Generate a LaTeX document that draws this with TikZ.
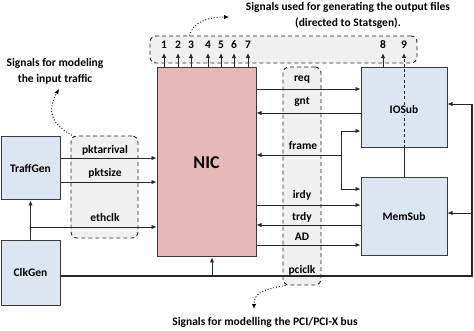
\documentclass[tikz,border=0pt]{standalone}
\usepackage{fontspec}
\setmainfont{Carlito}
\usetikzlibrary{arrows.meta,calc}
\definecolor{boxblue}{HTML}{DCE6F2}
\definecolor{nicpink}{HTML}{E6B8B7}
\definecolor{dgray}{HTML}{F0F0F0}
\definecolor{edge}{HTML}{3A3A3A}
\begin{document}
\begin{tikzpicture}[x=1pt,y=-1pt,
  font=\bfseries\fontsize{11.5}{14}\selectfont,
  blk/.style={draw=edge, line width=1pt, fill=boxblue, inner sep=0pt},
  dbox/.style={draw=black!85, dashed, dash pattern=on 4pt off 3pt, line width=0.9pt, fill=dgray, rounded corners=6pt, inner sep=0pt},
  ar/.style={-{Latex[length=5pt,width=4.5pt]}, line width=0.9pt, draw=black!85},
  ln/.style={line width=0.9pt, draw=black!85},
  dotar/.style={-{Latex[length=5pt,width=4.5pt]}, dotted, line width=0.9pt},
  sig/.style={inner sep=1pt},
  note/.style={align=center, inner sep=0pt}]
\useasboundingbox (0,0) rectangle (474,331);

% dashed groups
\node[dbox, minimum width=267, minimum height=27] (outbox) at (283.5,49.5) {};
\node[dbox, minimum width=67, minimum height=102] (inbox) at (104.5,187) {};
\node[dbox, minimum width=38, minimum height=218] (pcibox) at (302,176) {};

% blocks
\node[blk, minimum width=59, minimum height=63] (traff) at (30.5,168.5) {TraffGen};
\node[blk, minimum width=59, minimum height=64] (clk) at (30.5,273) {ClkGen};
\node[draw=edge, line width=1pt, fill=nicpink, minimum width=99, minimum height=189, font=\bfseries\fontsize{18}{20}\selectfont] (nic) at (206.5,162.5) {NIC};
\node[blk, minimum width=86, minimum height=80] (iosub) at (404,108) {};
\node[inner sep=1pt] (iolab) at (404,110) {IOSub};
\node[blk, minimum width=86, minimum height=78] (memsub) at (404,217) {MemSub};

% y levels
\coordinate (ypa) at (0,158);
\coordinate (yps) at (0,182);
\coordinate (yec) at (0,227);
\coordinate (yreq) at (0,89);
\coordinate (ygnt) at (0,113);
\coordinate (yfr) at (0,155);
\coordinate (yirdy) at (0,205);
\coordinate (ytrdy) at (0,225);
\coordinate (yad) at (0,245);
\coordinate (ybus) at (0,276);
\coordinate (frtop) at (341,131);
\coordinate (frmid) at (341,155);
\coordinate (frbot) at (341,189);
\coordinate (bl) at (472,276);
\coordinate (btop) at (472,104);
\coordinate (bmem) at (472,213);
\coordinate (ecbr) at (30.5,227);
\coordinate (nicclk) at (212,276);

% input traffic signals
\draw[ar] (traff.east |- ypa) -- (nic.west |- ypa);
\draw[ar] (traff.east |- yps) -- (nic.west |- yps);
\draw[ar] (clk.north) -- (traff.south);
\draw[ar] (ecbr) -- (nic.west |- yec);
\node[sig] (lpa) at (105,150) {pktarrival};
\node[sig] (lps) at (105,173) {pktsize};
\node[sig] (lec) at (105,218) {ethclk};

% clock bus
\draw[line width=1.3pt, draw=black!85] (clk.east |- ybus) -- (bl) -- (btop);
\draw[ar] (btop) -- (iosub.east |- btop);
\draw[ar] (bmem) -- (memsub.east |- bmem);
\draw[ar] (nicclk) -- (nic.south -| nicclk);

% PCI signals
\draw[ar] (nic.east |- yreq) -- (iosub.west |- yreq);
\draw[ar] (iosub.west |- ygnt) -- (nic.east |- ygnt);
\draw[ar] (frmid) -- (nic.east |- yfr);
\draw[ln] (frtop) -- (frbot);
\draw[ar] (frtop) -- (iosub.west |- frtop);
\draw[ar] (frbot) -- (memsub.west |- frbot);
\draw[ar] (nic.east |- yirdy) -- (memsub.west |- yirdy);
\draw[ar] (memsub.west |- ytrdy) -- (nic.east |- ytrdy);
\draw[ar] (nic.east |- yad) -- (memsub.west |- yad);
\node[sig] (lreq) at (302,80) {req};
\node[sig] (lgnt) at (302,102) {gnt};
\node[sig] (lfr) at (303,146) {frame};
\node[sig] (lirdy) at (302,195) {irdy};
\node[sig] (ltrdy) at (302,217) {trdy};
\node[sig] (lad) at (302,237) {AD};
\node[sig] (lpci) at (302,270) {pciclk};

% IOSub - MemSub
\draw[ln] (memsub.north) -- (iosub.south);
\draw[ln, dashed, dash pattern=on 3pt off 2.5pt] (iosub.south) -- (iolab.south);
\draw[ln, dashed, dash pattern=on 3pt off 2.5pt] (iolab.north) -- (iosub.north);

% output signals
\foreach \i/\x in {1/164,2/178,3/191,4/208,5/221,6/234,7/248,8/383,9/404}{
  \node[inner sep=0pt] (n\i) at (\x,45) {\i};
}
\foreach \i in {1,...,7}{
  \draw[ar] (nic.north -| n\i) -- ([yshift=-4pt]n\i.south);
}
\draw[ar] (iosub.north -| n8) -- ([yshift=-4pt]n8.south);
\draw[ar, dashed, dash pattern=on 3pt off 2.5pt] (iosub.north -| n9) -- ([yshift=-4pt]n9.south);

% notes
\node[note, font=\bfseries\fontsize{11.5}{16}\selectfont] (topnote) at (348,15) {Signals used for generating the output files\\(directed to Statsgen).};
\node[note, font=\bfseries\fontsize{11.5}{16}\selectfont] (leftnote) at (55,71) {Signals for modeling\\the input traffic};
\node[note] (botnote) at (265,322) {Signals for modelling the PCI/PCI-X bus};

\draw[dotar] ([xshift=40pt]outbox.north west) .. controls (193,22) and (208,17) .. (229,17);
\draw[dotar] ([xshift=4pt,yshift=-1pt]inbox.north west) .. controls (45,122) and (50,105) .. (59,89);
\draw[dotar] ([xshift=3pt]pcibox.south west) .. controls (265,289) and (254,292) .. (254,309);
\end{tikzpicture}
\end{document}
